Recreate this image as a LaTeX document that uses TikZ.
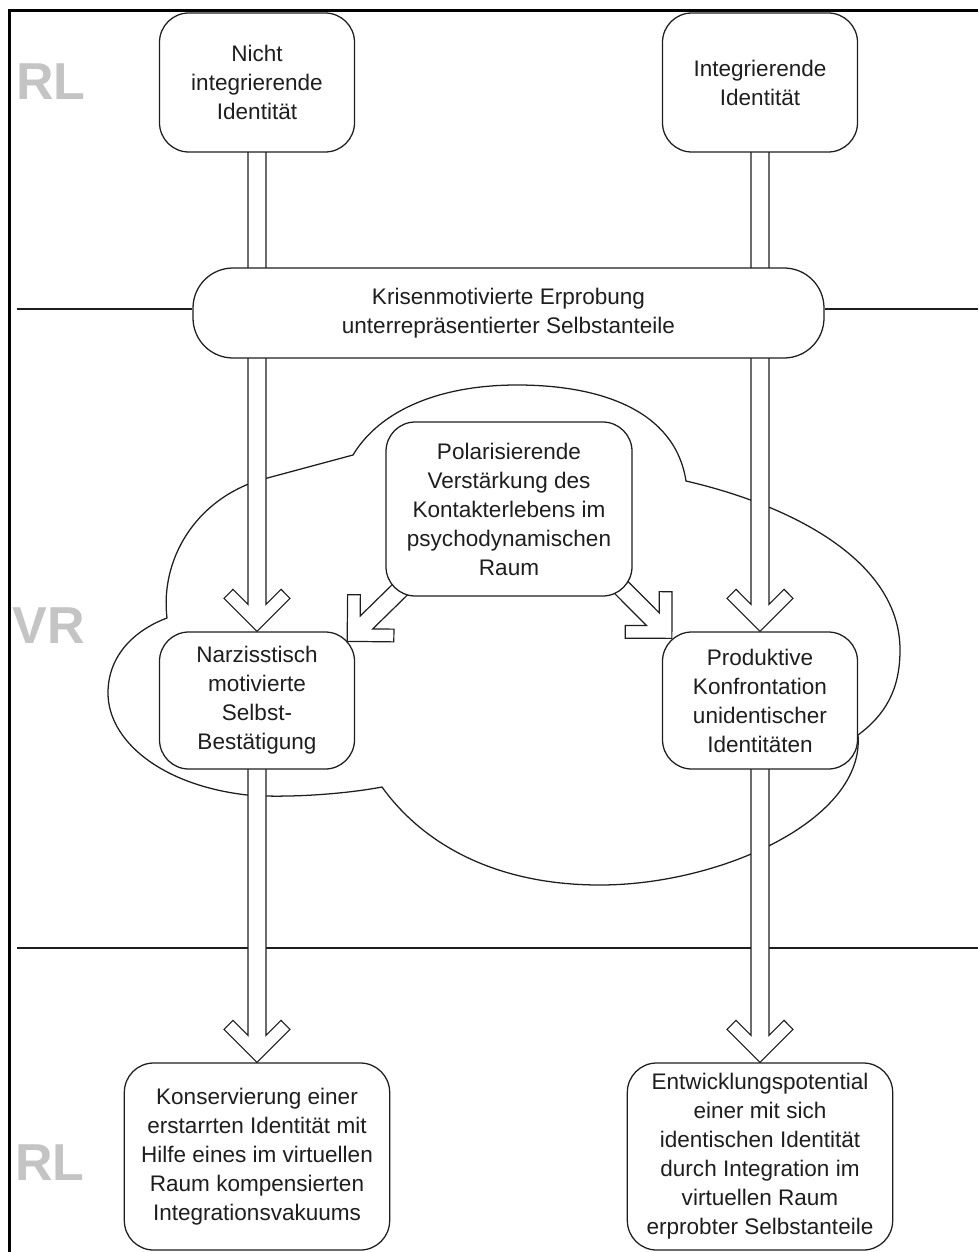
\documentclass[tikz,border=0pt]{standalone}
\usepackage{fontspec}
\setmainfont{Liberation Sans}
\usetikzlibrary{calc}
\pgfdeclarelayer{bg}
\pgfdeclarelayer{arr}
\pgfsetlayers{bg,arr,main}
\definecolor{ink}{HTML}{1E1E1E}
\definecolor{lblgray}{HTML}{C4C4C4}
\newcommand\hollowarr[2]{%
  \draw[harrow] ($(#1)!6.75pt!-90:(#2)$) -- ($(#2)!21.35pt!18.43:(#1)$)
    -- ($(#2)!36.3pt!29.74:(#1)$) -- ($(#2)!35pt!45:(#1)$) -- (#2)
    -- ($(#2)!35pt!-45:(#1)$) -- ($(#2)!36.3pt!-29.74:(#1)$)
    -- ($(#2)!21.35pt!-18.43:(#1)$) -- ($(#1)!6.75pt!90:(#2)$) -- cycle;}
\begin{document}
\begin{tikzpicture}[x=0.75pt, y=-0.75pt,
  box/.style={draw=ink, line width=0.95pt, fill=white, rounded corners=22pt,
    align=center, inner sep=0pt, text=ink,
    font=\fontsize{16.9}{21.75}\selectfont},
  topbox/.style={box, minimum width=146.25pt, minimum height=104.25pt},
  midbox/.style={box, minimum width=146.25pt, minimum height=102.75pt},
  lowbox/.style={box, minimum width=199pt, minimum height=140.25pt},
  harrow/.style={draw=ink, line width=0.9pt, fill=white, line join=miter},
  sep/.style={draw=ink, line width=1.1pt},
  cloudline/.style={draw=ink, line width=0.95pt},
  zone/.style={text=lblgray, inner sep=0pt, font=\fontsize{39}{39}\selectfont\bfseries}]
\useasboundingbox (0,0) rectangle (978,1252);
% frame
\draw[line width=2.25pt] (9.5,1252) -- (9.5,10.5) -- (978,10.5);
% zone labels
\node[zone] (rl1) at (51,82) {RL};
\node[zone] (vr) at (49,626) {VR};
\node[zone] (rl2) at (50,1163) {RL};
% boxes
\node[topbox] (nicht) at (257,82.5) {Nicht\\integrierende\\Identität};
\node[topbox] (integ) at (760,82.5) {Integrierende\\Identität};
\node[box, rounded corners=30pt, minimum width=473.25pt, minimum height=67.5pt] (kris) at (508.5,313)
  {Krisenmotivierte Erprobung\\unterrepräsentierter Selbstanteile};
\node[box, minimum width=184.5pt, minimum height=130.5pt] (pol) at (509,509)
  {Polarisierende\\Verstärkung des\\Kontakterlebens im\\psychodynamischen\\Raum};
\node[midbox] (narz) at (257,700.5) {Narzisstisch\\motivierte\\Selbst-\\Bestätigung};
\node[midbox] (prod) at (760,700.5) {Produktive\\Konfrontation\\unidentischer\\Identitäten};
\node[lowbox] (kons) at (257,1156.5)
  {Konservierung einer\\erstarrten Identität mit\\Hilfe eines im virtuellen\\Raum kompensierten\\Integrationsvakuums};
\node[lowbox] (entw) at (760,1156.5)
  {Entwicklungspotential\\einer mit sich\\identischen Identität\\durch Integration im\\virtuellen Raum\\erprobter Selbstanteile};
% separators and cloud
\begin{pgfonlayer}{bg}
  \coordinate (hl1) at (17,309);
  \coordinate (hr1) at (978,309);
  \coordinate (hl2) at (17,948);
  \coordinate (hr2) at (978,948);
  \draw[sep] (hl1) -- (hl1 -| kris.west);
  \draw[sep] (hr1 -| kris.east) -- (hr1);
  \draw[sep] (hl2) -- (hr2);
  \draw[cloudline] (353,455) .. controls (380,410) and (440,385) .. (517,385)
    .. controls (600,385) and (675,410) .. (686,481)
    .. controls (790,505) and (900,560) .. (900,650)
    .. controls (900,690) and (885,715) .. (858,735)
    .. controls (865,820) and (720,885) .. (600,885)
    .. controls (490,885) and (420,840) .. (382,787)
    .. controls (340,795) and (280,798) .. (247,795)
    .. controls (160,785) and (108,740) .. (108,693)
    .. controls (108,655) and (135,630) .. (167,618)
    .. controls (160,560) and (195,500) .. (260,480)
    -- cycle;
\end{pgfonlayer}
% hollow arrows
\begin{pgfonlayer}{arr}
  \hollowarr{nicht.center}{narz.north}
  \hollowarr{integ.center}{prod.north}
  \hollowarr{narz.center}{kons.north}
  \hollowarr{prod.center}{entw.north}
  \coordinate (ps1) at ($(pol.south west)+(31,-23)$);
  \coordinate (pt1) at ($(narz.north east)+(-8,10)$);
  \coordinate (ps2) at ($(pol.south east)+(-29,-27)$);
  \coordinate (pt2) at ($(prod.north west)+(10,7)$);
  \hollowarr{ps1}{pt1}
  \hollowarr{ps2}{pt2}
\end{pgfonlayer}
\end{tikzpicture}
\end{document}
